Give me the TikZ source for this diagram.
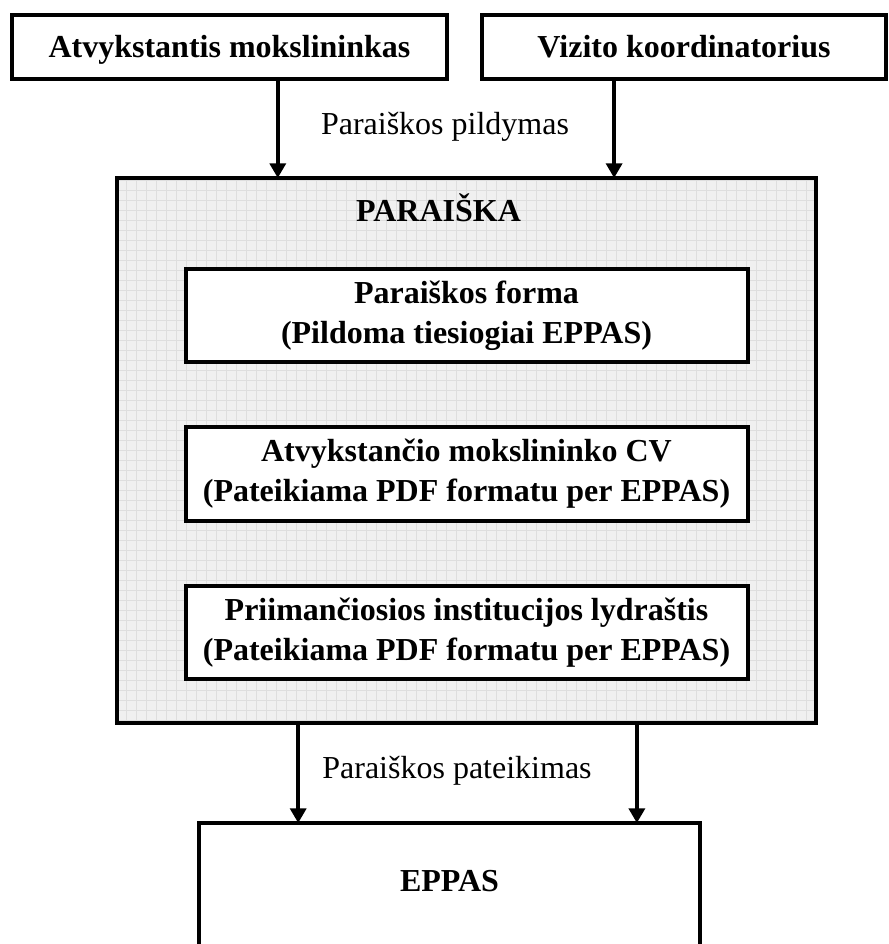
\documentclass[tikz,border=0pt]{standalone}
\usepackage{fontspec}
\setmainfont{Liberation Serif}
\usetikzlibrary{positioning}
\usetikzlibrary{arrows.meta}
\usetikzlibrary{calc}
\tikzset{%
  box/.style={draw, rectangle, outer sep=0pt, inner sep=0pt, fill=white, align=center,
    font=\fontsize{24}{30}\selectfont\bfseries},% common box
  actor/.style={box, line width=3pt, minimum height=48pt, text height=16pt, text depth=0pt},% who fills in the form
  part/.style={box, line width=3pt, minimum width=421.5pt, minimum height=70pt},% part of the application
  application/.style={box, line width=3pt, fill=black!6, minimum width=524.25pt,
    minimum height=408.75pt,
    path picture={\draw[black!13, line width=.5pt, step=7.5pt]
      (path picture bounding box.south west) grid (path picture bounding box.north east);}},
  system/.style={box, line width=2.4pt, minimum width=375.75pt, minimum height=135pt},% EPPAS
  flow/.style={line width=2.6pt, -{Triangle[length=11pt, width=12pt]}},% submission arrows
  action/.style={font=\fontsize{24}{30}\selectfont, anchor=base},% text at the arrows
  heading/.style={font=\fontsize{24}{30}\selectfont\bfseries, anchor=base}
}

\begin{document}
\begin{tikzpicture}[x=.75pt, y=-.75pt]
  \useasboundingbox (0,0) rectangle (888,944);
  \clip (0,0) rectangle (888,944);
  % The two who fill in the application:
  \node[actor, minimum width=326.25pt] (A) at (229.5,47) {Atvykstantis mokslininkas};
  \node[actor, minimum width=303pt, right=26.25pt of A] (V) {Vizito koordinatorius};
  % The application and its three parts:
  \node[application] (P) at (466.5,450.5) {};
  \node[heading] (Ptitle) at ([xshift=-21pt, yshift=-33pt]P.north) {PARAIŠKA};
  \node[part, below=68.25pt of P.north] (F1) {Paraiškos forma\\(Pildoma tiesiogiai EPPAS)};
  \node[part, below=48.75pt of F1] (F2) {Atvykstančio mokslininko CV\\(Pateikiama PDF formatu per EPPAS)};
  \node[part, below=48.75pt of F2] (F3) {Priimančiosios institucijos lydraštis\\(Pateikiama PDF formatu per EPPAS)};
  % The system, cut by the page edge:
  \node[system, anchor=north] (E) at (449.5,823) {};
  \node[heading] (Etitle) at ([yshift=-51pt]E.north) {EPPAS};
  % Arrows and what they stand for:
  \coordinate (outA) at ($(A.south west)!.611!(A.south east)$);
  \coordinate (outV) at ($(V.south west)!.327!(V.south east)$);
  \coordinate (inEl) at ($(E.north west)!.198!(E.north east)$);
  \coordinate (inEr) at ($(E.north west)!.874!(E.north east)$);
  \draw[flow] (outA) -- (outA |- P.north);
  \draw[flow] (outV) -- (outV |- P.north);
  \draw[flow] (inEl |- P.south) -- (inEl);
  \draw[flow] (inEr |- P.south) -- (inEr);
  \node[action] (fill) at (445,135) {Paraiškos pildymas};
  \node[action] (submit) at (457,778) {Paraiškos pateikimas};
\end{tikzpicture}
\end{document}
